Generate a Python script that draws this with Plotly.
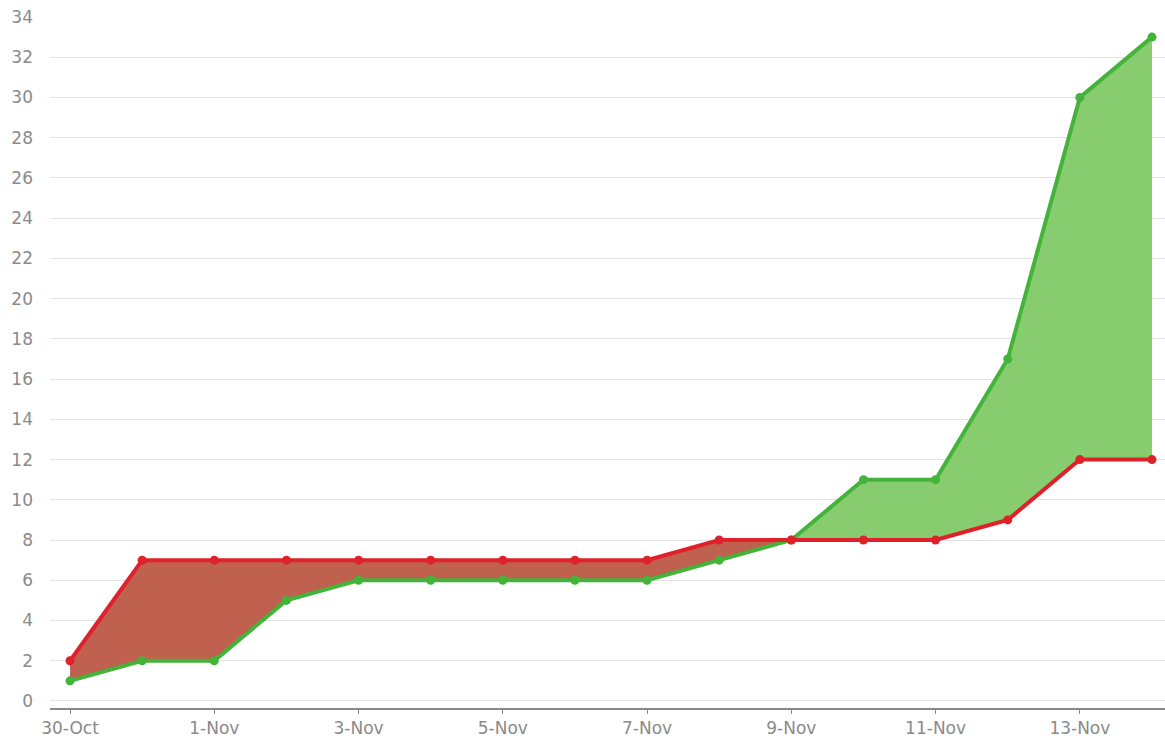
import plotly.graph_objects as go

dates = ["2023-10-30", "2023-10-31", "2023-11-01", "2023-11-02", "2023-11-03", "2023-11-04",
         "2023-11-05", "2023-11-06", "2023-11-07", "2023-11-08", "2023-11-09", "2023-11-10",
         "2023-11-11", "2023-11-12", "2023-11-13", "2023-11-14"]
red_values = [2, 7, 7, 7, 7, 7, 7, 7, 7, 8, 8, 8, 8, 9, 12, 12]
green_values = [1, 2, 2, 5, 6, 6, 6, 6, 6, 7, 8, 11, 11, 17, 30, 33]
x_tick_vals = ["2023-10-30", "2023-11-01", "2023-11-03", "2023-11-05", "2023-11-07",
               "2023-11-09", "2023-11-11", "2023-11-13"]
x_tick_text = ["30-Oct", "1-Nov", "3-Nov", "5-Nov", "7-Nov", "9-Nov", "11-Nov", "13-Nov"]

RED = "#e0202a"
GREEN = "#44b33a"
RED_FILL = "#c0604f"
GREEN_FILL = "#88cc70"

lower = [min(r, g) for r, g in zip(red_values, green_values)]

fig = go.Figure()
# red fill region (red above green)
fig.add_trace(go.Scatter(x=dates, y=lower, mode="lines", line=dict(width=0), showlegend=False, hoverinfo="skip"))
fig.add_trace(go.Scatter(x=dates, y=red_values, mode="lines", line=dict(width=0), fill="tonexty",
                         fillcolor=RED_FILL, showlegend=False, hoverinfo="skip"))
# green fill region (green above red)
fig.add_trace(go.Scatter(x=dates, y=lower, mode="lines", line=dict(width=0), showlegend=False, hoverinfo="skip"))
fig.add_trace(go.Scatter(x=dates, y=green_values, mode="lines", line=dict(width=0), fill="tonexty",
                         fillcolor=GREEN_FILL, showlegend=False, hoverinfo="skip"))
# lines
fig.add_trace(go.Scatter(x=dates, y=green_values, mode="lines+markers", name="Green",
                         line=dict(color=GREEN, width=4), marker=dict(color=GREEN, size=9)))
fig.add_trace(go.Scatter(x=dates, y=red_values, mode="lines+markers", name="Red",
                         line=dict(color=RED, width=4), marker=dict(color=RED, size=9)))

fig.update_layout(
    width=1165, height=738,
    margin=dict(l=50, r=0, t=17, b=28),
    plot_bgcolor="white", paper_bgcolor="white",
    showlegend=False,
    font=dict(family="DejaVu Sans", size=17, color="#8a8a8a"),
    xaxis=dict(
        type="date",
        range=["2023-10-29 17:20", "2023-11-14 04:20"],
        tickvals=x_tick_vals, ticktext=x_tick_text,
        showgrid=False, zeroline=False,
        showline=True, linecolor="#888888", linewidth=2,
        ticks="outside", ticklen=4, tickcolor="#888888", tickwidth=1,
        tickfont=dict(size=17, color="#8a8a8a"),
    ),
    yaxis=dict(
        range=[-0.35, 34],
        tickmode="linear", tick0=0, dtick=2,
        showgrid=True, gridcolor="#e3e3e3", gridwidth=1,
        zeroline=False, showline=False,
        ticks="", ticklabelstandoff=16,
        tickfont=dict(size=17, color="#8a8a8a"),
    ),
)

fig.write_html("out.html", config={"displayModeBar": False},
               post_script="document.body.style.margin='0';document.body.style.padding='0';document.body.style.overflow='hidden';")
